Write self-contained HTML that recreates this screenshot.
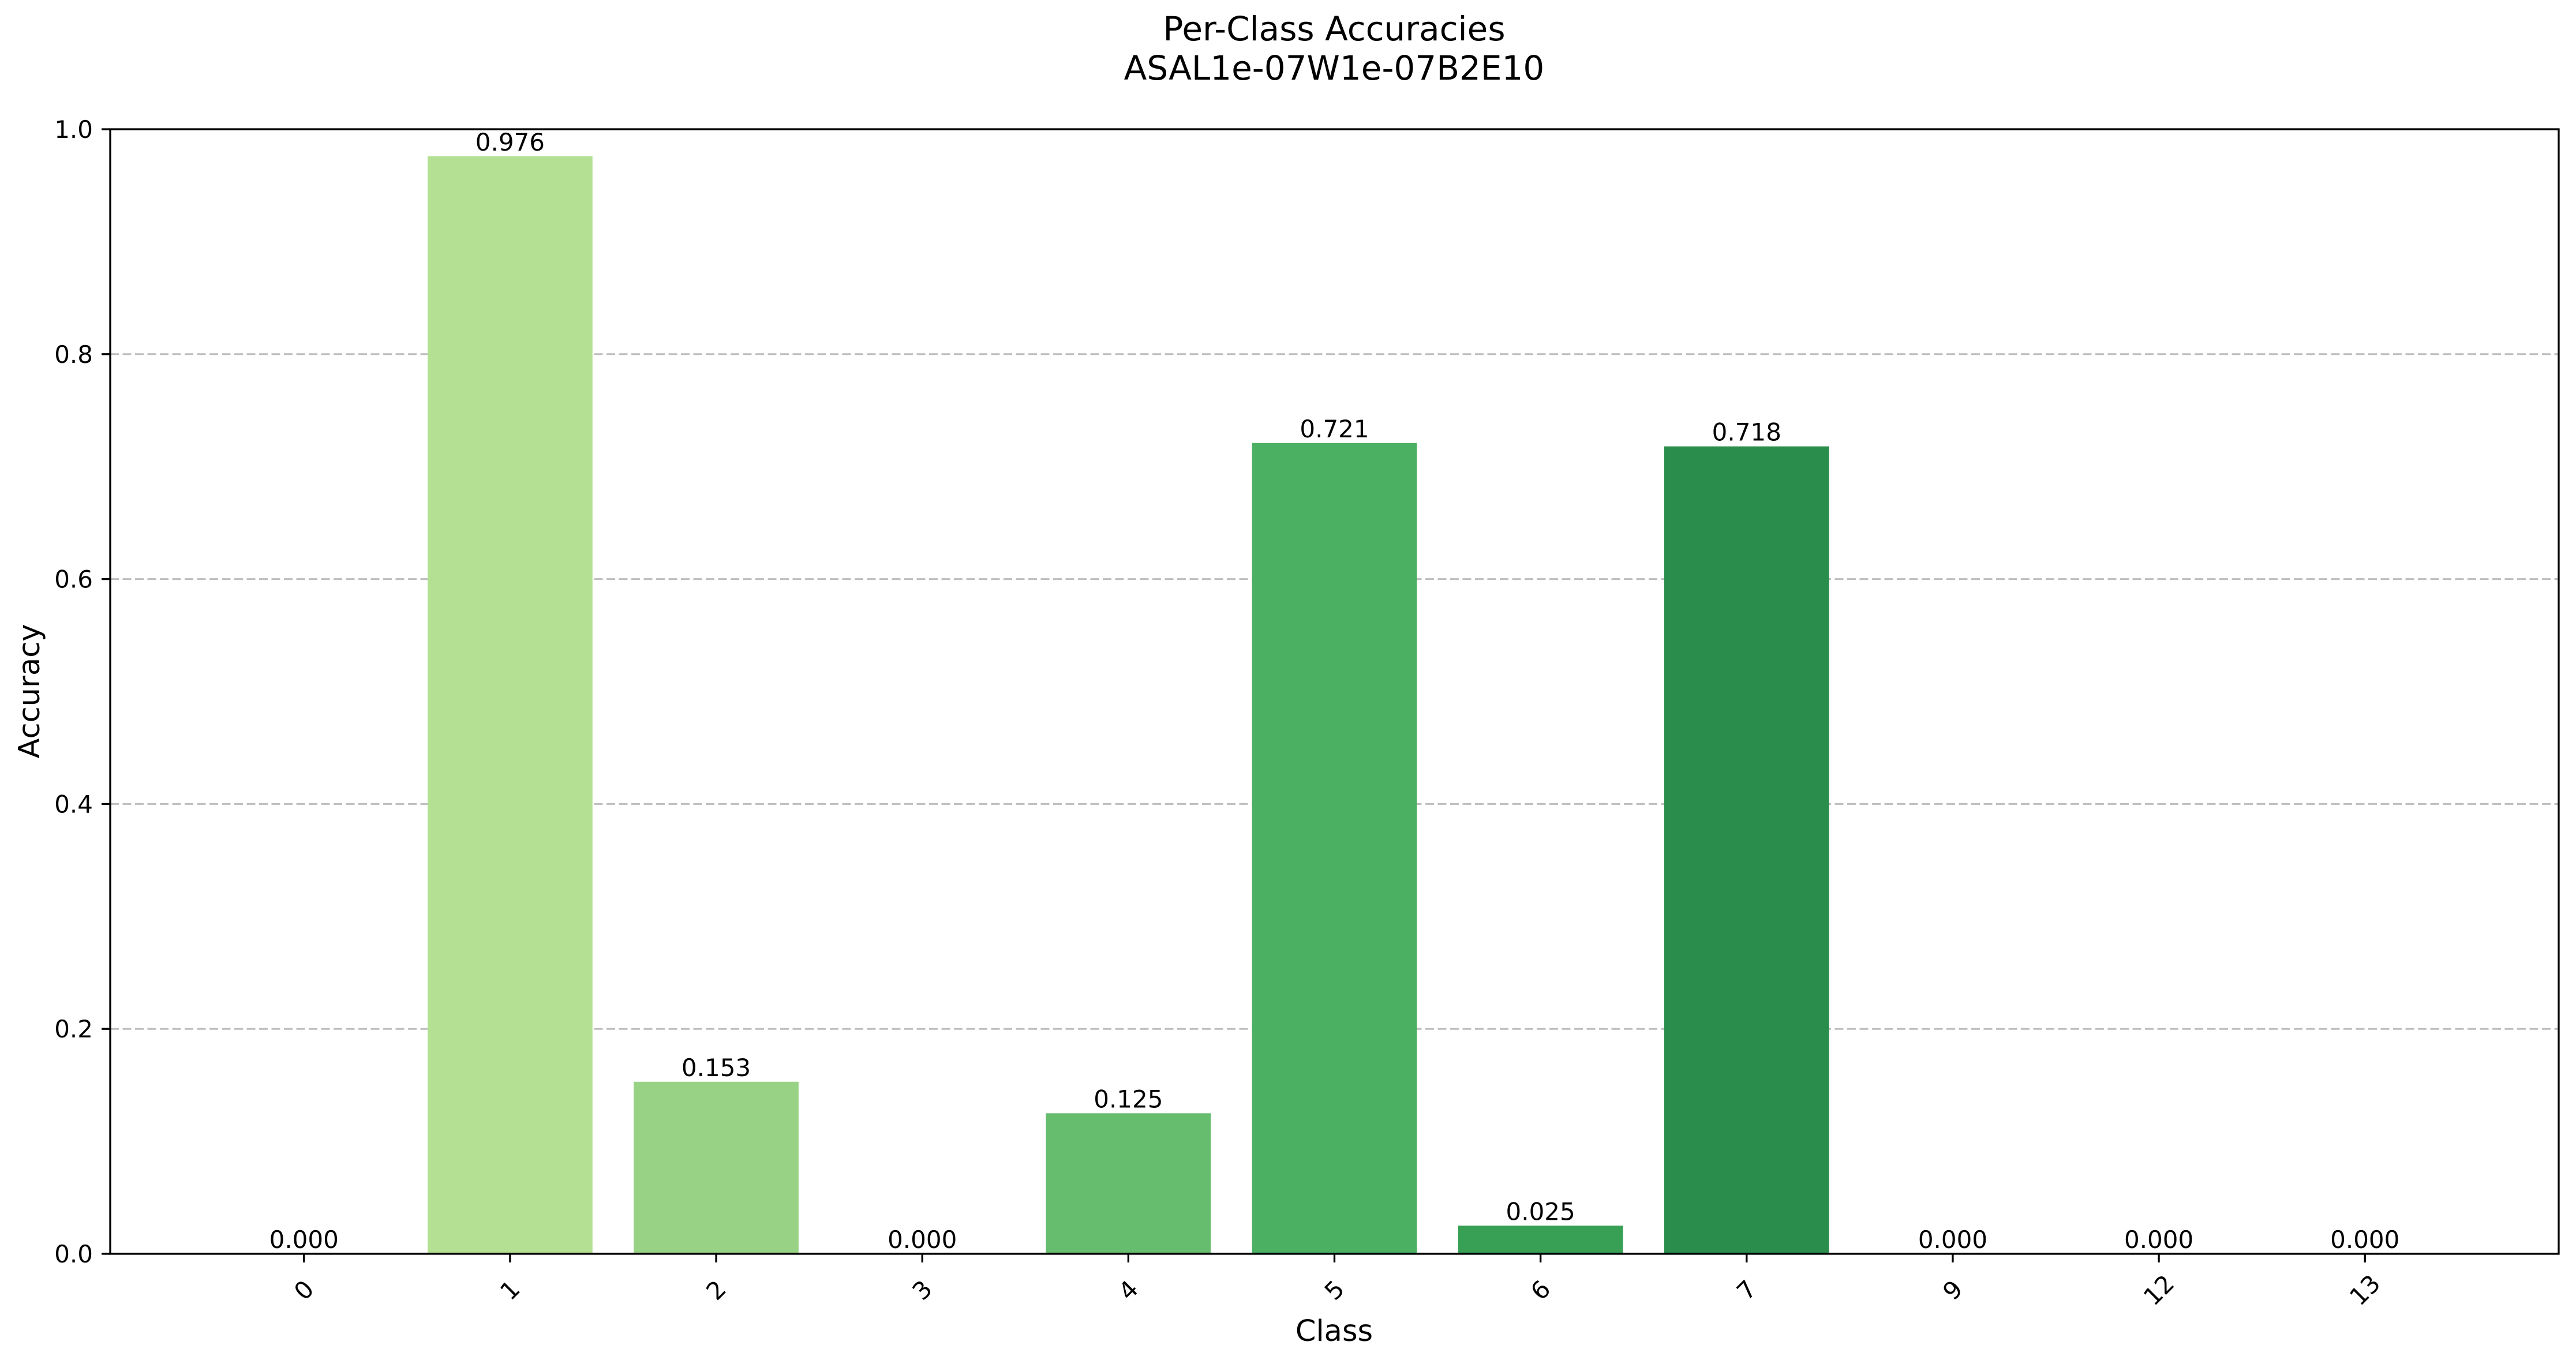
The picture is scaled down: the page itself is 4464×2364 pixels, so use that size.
<!DOCTYPE html>
<html><head><meta charset="utf-8"><style>
html,body{margin:0;padding:0;background:#fff;}
svg{display:block;font-family:"DejaVu Sans","Liberation Sans",sans-serif;}
</style></head><body>
<svg id="chart" width="4464" height="2364" viewBox="0 0 4464 2364" xmlns="http://www.w3.org/2000/svg">
<rect width="4464" height="2364" fill="#fff"/>
<text x="2312" y="70" font-size="58" text-anchor="middle">Per-Class Accuracies</text>
<text x="2312" y="138" font-size="58" text-anchor="middle">ASAL1e-07W1e-07B2E10</text>
<g id="grid"></g>
<g id="bars"></g>
<g id="labels"></g>
<g id="axes"></g>
<text x="2312" y="2324" font-size="51" text-anchor="middle">Class</text>
<text transform="translate(68,1198) rotate(-90)" font-size="51" text-anchor="middle">Accuracy</text>
</svg>
<script>
const categories = ["0","1","2","3","4","5","6","7","9","12","13"];
const accuracies = [0.000,0.976,0.153,0.000,0.125,0.721,0.025,0.718,0.000,0.000,0.000];
const barColors = ["#c8e9a4","#b3e092","#98d385","#7fc87a","#66bd6d","#4bb062","#37a055","#2a8d4b","#1b7a3f","#0f6a33","#005a2a"];
const yTicks = [0.0,0.2,0.4,0.6,0.8,1.0];
const yTickLabels = ["0.0","0.2","0.4","0.6","0.8","1.0"];

const NS="http://www.w3.org/2000/svg";
const L=191,R=4434,T=224,B=2173;
const n=categories.length;
const xmin=-0.94,xmax=(n-1)+0.94;
function xs(i){return L+(i-xmin)/(xmax-xmin)*(R-L);}
function ys(v){return B-(v-0)/(1-0)*(B-T);}
const unit=(R-L)/(xmax-xmin);
function mk(tag,attrs,parent){const e=document.createElementNS(NS,tag);for(const k in attrs)e.setAttribute(k,attrs[k]);parent.appendChild(e);return e;}
const grid=document.getElementById('grid'),bars=document.getElementById('bars'),labels=document.getElementById('labels'),axes=document.getElementById('axes');

yTicks.forEach((t,i)=>{
  const y=ys(t);
  const g=mk('line',{x1:L,x2:R,y1:y,y2:y,stroke:'#bdbdbd','stroke-width':3,'stroke-dasharray':'15 6.5'},grid);
  
  
  const tk=mk('line',{x1:L-15,x2:L,y1:y,y2:y,stroke:'#000','stroke-width':3.3},axes);
  
  
  const tl=mk('text',{x:L-30,y:y+15,'font-size':42,'text-anchor':'end'},axes);
  tl.textContent=yTickLabels[i];
  
  
});

categories.forEach((c,i)=>{
  const cx=xs(i),w=0.8*unit,v=accuracies[i];
  const r=mk('rect',{x:cx-w/2,y:ys(v),width:w,height:B-ys(v),fill:barColors[i]},bars);
  
  
  const vl=mk('text',{x:cx,y:ys(v)-10,'font-size':42,'text-anchor':'middle'},labels);
  vl.textContent=v.toFixed(3);
  
  
  const tk=mk('line',{x1:cx,x2:cx,y1:B,y2:B+15,stroke:'#000','stroke-width':3.3},axes);
  
  
  const tl=mk('text',{x:0,y:0,'font-size':42,'text-anchor':'middle','dominant-baseline':'central',transform:'translate('+cx+','+2236+') rotate(-45)'},axes);
  tl.textContent=c;
  
  
});

const frame=mk('rect',{x:L,y:T,width:R-L,height:B-T,fill:'none',stroke:'#000','stroke-width':3.3},axes);


</script>
</body></html>
